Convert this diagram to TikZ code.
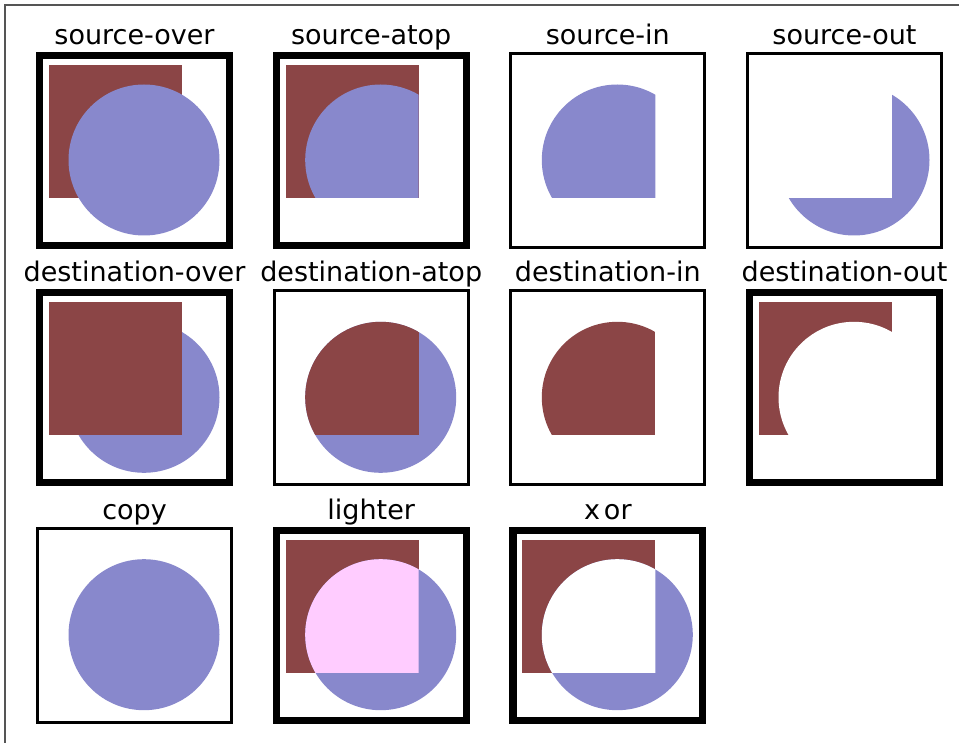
\documentclass[tikz,border=0pt]{standalone}
\usepackage{fontspec}
\setmainfont{DejaVu Sans}
\definecolor{dst}{HTML}{8B4546}
\definecolor{srcc}{HTML}{8888CC}
\definecolor{mix}{HTML}{FFCCFF}
\definecolor{framegray}{HTML}{555555}
\tikzset{
  lbl/.style={anchor=base, inner sep=0pt, font=\fontsize{27}{32}\selectfont},
  thickbox/.style={draw=black, line width=7.2pt},
  thinbox/.style={draw=black, line width=3pt},
  dstfill/.style={fill=dst},
  srcfill/.style={fill=srcc},
  erase/.style={fill=white},
}
\begin{document}
\begin{tikzpicture}[x=1pt,y=-1pt]
\useasboundingbox (0,0) rectangle (959,743);
\fill[white] (0,0) rectangle (959,743);
\draw[framegray, line width=1.3pt] (5,743) -- (5,5) -- (959,5);

% ---------- row 1 ----------
% source-over
\begin{scope}[shift={(36,52)}]
  \node[lbl] (l1) at (98.5,-7.5) {source-over};
  \fill[dstfill] (13,13) rectangle (146,146);
  \fill[srcfill] (108,108) circle[radius=75.5pt];
  \draw[thickbox] (3.6,3.6) rectangle (193.4,193.4);
\end{scope}
% source-atop
\begin{scope}[shift={(272.7,52)}]
  \node[lbl] (l2) at (98.5,-7.5) {source-atop};
  \fill[dstfill] (13,13) rectangle (146,146);
  \begin{scope}
    \clip (13,13) rectangle (146,146);
    \fill[srcfill] (108,108) circle[radius=75.5pt];
  \end{scope}
  \draw[thickbox] (3.6,3.6) rectangle (193.4,193.4);
\end{scope}
% source-in
\begin{scope}[shift={(509.3,52)}]
  \node[lbl] (l3) at (98.5,-7.5) {source-in};
  \begin{scope}
    \clip (13,13) rectangle (146,146);
    \fill[srcfill] (108,108) circle[radius=75.5pt];
  \end{scope}
  \draw[thinbox] (1.5,1.5) rectangle (195.5,195.5);
\end{scope}
% source-out
\begin{scope}[shift={(746,52)}]
  \node[lbl] (l4) at (98.5,-7.5) {source-out};
  \fill[srcfill] (108,108) circle[radius=75.5pt];
  \fill[erase] (12,12) rectangle (146,146);
  \draw[thinbox] (1.5,1.5) rectangle (195.5,195.5);
\end{scope}

% ---------- row 2 ----------
% destination-over
\begin{scope}[shift={(36,289.3)}]
  \node[lbl] (l5) at (98.5,-7.5) {destination-over};
  \fill[srcfill] (108,108) circle[radius=75.5pt];
  \fill[dstfill] (13,13) rectangle (146,146);
  \draw[thickbox] (3.6,3.6) rectangle (193.4,193.4);
\end{scope}
% destination-atop
\begin{scope}[shift={(272.7,289.3)}]
  \node[lbl] (l6) at (98.5,-7.5) {destination-atop};
  \fill[srcfill] (108,108) circle[radius=75.5pt];
  \begin{scope}
    \clip (108,108) circle[radius=75.5pt];
    \fill[dstfill] (13,13) rectangle (146,146);
  \end{scope}
  \draw[thinbox] (1.5,1.5) rectangle (195.5,195.5);
\end{scope}
% destination-in
\begin{scope}[shift={(509.3,289.3)}]
  \node[lbl] (l7) at (98.5,-7.5) {destination-in};
  \begin{scope}
    \clip (108,108) circle[radius=75.5pt];
    \fill[dstfill] (13,13) rectangle (146,146);
  \end{scope}
  \draw[thinbox] (1.5,1.5) rectangle (195.5,195.5);
\end{scope}
% destination-out
\begin{scope}[shift={(746,289.3)}]
  \node[lbl] (l8) at (98.5,-7.5) {destination-out};
  \fill[dstfill] (13,13) rectangle (146,146);
  \fill[erase] (108,108) circle[radius=75.5pt];
  \draw[thickbox] (3.6,3.6) rectangle (193.4,193.4);
\end{scope}

% ---------- row 3 ----------
% copy
\begin{scope}[shift={(36,526.7)}]
  \node[lbl] (l9) at (98.5,-7.5) {copy};
  \fill[srcfill] (108,108) circle[radius=75.5pt];
  \draw[thinbox] (1.5,1.5) rectangle (195.5,195.5);
\end{scope}
% lighter
\begin{scope}[shift={(272.7,526.7)}]
  \node[lbl] (l10) at (98.5,-7.5) {lighter};
  \fill[dstfill] (13,13) rectangle (146,146);
  \fill[srcfill] (108,108) circle[radius=75.5pt];
  \begin{scope}
    \clip (13,13) rectangle (146,146);
    \fill[mix] (108,108) circle[radius=75.5pt];
  \end{scope}
  \draw[thickbox] (3.6,3.6) rectangle (193.4,193.4);
\end{scope}
% xor
\begin{scope}[shift={(509.3,526.7)}]
  \node[lbl] (l11) at (98.5,-7.5) {x\kern4pt or};
  \fill[dstfill] (13,13) rectangle (146,146);
  \fill[srcfill] (108,108) circle[radius=75.5pt];
  \begin{scope}
    \clip (13,13) rectangle (146,146);
    \fill[erase] (108,108) circle[radius=75.5pt];
  \end{scope}
  \draw[thickbox] (3.6,3.6) rectangle (193.4,193.4);
\end{scope}
\end{tikzpicture}
\end{document}
